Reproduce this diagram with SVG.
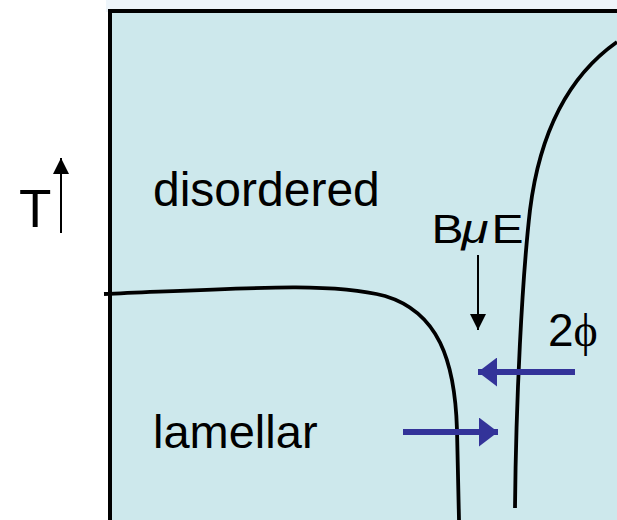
<svg xmlns="http://www.w3.org/2000/svg" width="617" height="520" viewBox="0 0 617 520">
<style>
.lbl{font-family:"Liberation Sans",Arial,sans-serif;fill:#000}
.curve{fill:none;stroke:#000;stroke-width:3.8;stroke-linecap:butt}
.blk{stroke:#000;stroke-width:2}
.blue{stroke:#333399;stroke-width:6}
</style>
<defs>
<marker id="hb" markerUnits="userSpaceOnUse" markerWidth="16" markerHeight="16" refX="16" refY="8" orient="auto" viewBox="0 0 16 16">
<path d="M0,0 L16,8 L0,16 Z" fill="#000"/>
</marker>
<marker id="hblue" markerUnits="userSpaceOnUse" markerWidth="19" markerHeight="29" refX="19" refY="14.5" orient="auto" viewBox="0 0 19 29">
<path d="M0,0 L19,14.5 L0,29 Z" fill="#333399"/>
</marker>
</defs>
<rect x="0" y="0" width="617" height="520" fill="#fff"/>
<rect x="106" y="0" width="511" height="12" fill="#eef5fa"/>
<g id="phase-box">
<rect x="110" y="11" width="520" height="520" fill="#cde8ec" stroke="#000" stroke-width="4"/>
</g>
<g id="connectors">
<path class="curve" d="M104,294 C 250,288 330,282 385,296 C 438,312 455,360 457,430 L 459,520"/>
<path class="curve" d="M617,42 C 570,75 540,130 530,210 C 522,280 516,400 515,508"/>
<line class="blk" x1="61" y1="233" x2="61" y2="158" marker-end="url(#hb)"/>
<line class="blk" x1="478" y1="255" x2="478" y2="330" marker-end="url(#hb)"/>
<line class="blue" x1="575" y1="372" x2="478" y2="372" marker-end="url(#hblue)"/>
<line class="blue" x1="403" y1="432" x2="498" y2="432" marker-end="url(#hblue)"/>
</g>
<g id="label-T"><text class="lbl" x="19" y="227" font-size="53">T</text></g>
<g id="label-disordered"><text class="lbl" x="153" y="206" font-size="48">disordered</text></g>
<g id="label-lamellar"><text class="lbl" x="153" y="448" font-size="47">lamellar</text></g>
<g id="label-BmuE"><text class="lbl" transform="translate(435,243) scale(1.2,1)" y="0" font-size="40"><tspan x="-3">B</tspan><tspan x="22" font-style="italic" font-size="41">μ</tspan><tspan x="47">E</tspan></text></g>
<g id="label-2phi"><text class="lbl" x="548" y="346" font-size="46">2<tspan font-family="'Liberation Serif',serif">ϕ</tspan></text></g>
</svg>
